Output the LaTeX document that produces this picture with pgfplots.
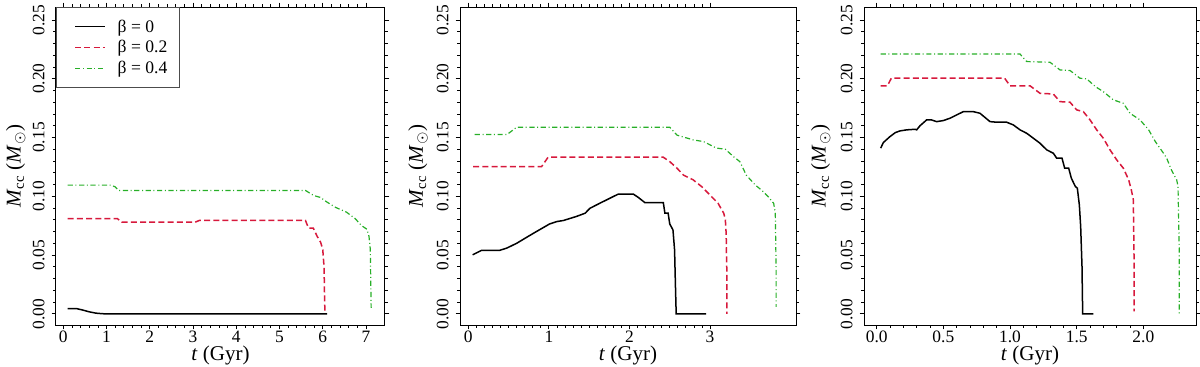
\documentclass[border=0pt]{standalone}
\usepackage{fontspec}
\setmainfont{Liberation Serif}
\usepackage{pgfplots}
\pgfplotsset{compat=1.18}
\definecolor{cred}{RGB}{215,25,60}
\definecolor{cgreen}{RGB}{40,175,40}
\pgfplotsset{
  panel/.style={
    scale only axis, height=159pt,
    ymin=-0.0095, ymax=0.261,
    ytick={0,0.05,0.10,0.15,0.20,0.25}, minor y tick num=4,
    scaled y ticks=false, scaled x ticks=false,
    /pgf/number format/assume math mode=true,
    yticklabel style={rotate=90, anchor=south, /pgf/number format/fixed, /pgf/number format/fixed zerofill, /pgf/number format/precision=2},
    xticklabel style={inner sep=0.8pt},
    tick label style={font=\fontsize{8.7}{10}\selectfont, text=black},
    tick align=outside, major tick length=2.2pt, minor tick length=1.3pt,
    tick style={black, line width=0.4pt},
    xtick pos=both, ytick pos=both,
    xticklabel pos=bottom, yticklabel pos=left,
    axis line style={black, line width=0.5pt},
    label style={font=\fontsize{10.5}{12}\selectfont},
    xlabel={\textit{t} (Gyr)},
    ylabel={\textit{M}\textsubscript{cc} (\textit{M}\textsubscript{$\odot$})},
    xlabel style={at={(axis description cs:0.5,-0.095)}, anchor=center},
    clip=true,
  },
  b0/.style={black, line width=0.75pt},
  b2/.style={cred, line width=0.75pt, dash pattern=on 3pt off 1.6pt},
  b4/.style={cgreen, line width=0.6pt, dash pattern=on 2.6pt off 1.3pt on 0.5pt off 1.3pt},
}
\begin{document}
\begin{tikzpicture}
\path[use as bounding box] (0,0) rectangle (600pt,183pt);
% ---------- panel 1
\begin{axis}[panel, at={(28pt,20.5pt)}, anchor=south west, width=164.5pt,
  ylabel style={at={(axis description cs:-0.122,0.5)}, anchor=center},
  xmin=-0.17, xmax=7.44, xtick={0,1,2,3,4,5,6,7}, minor x tick num=4,
  legend style={at={(0,1)}, anchor=north west, draw=black!70, line width=0.5pt, fill=white,
    inner xsep=5pt, inner ysep=4.5pt, row sep=0pt,
    font=\fontsize{8.8}{10}\selectfont,
    nodes={inner sep=1pt, text height=6.8pt, text depth=1.5pt},
    /tikz/every odd column/.append style={column sep=5pt}},
  legend cell align=left,
  legend image code/.code={\path (0pt,0pt); \draw[#1, line width=0.5pt] (4pt,0pt) -- (19pt,0pt);},
]
\addplot[b0] coordinates {(0.1,0.0045) (0.3,0.0045) (0.45,0.0032) (0.6,0.0017) (0.75,0.0006) (0.9,0.0001) (1.0,0) (6.1,0)};
\addlegendentry{β = 0}
\addplot[b2] coordinates {(0.1,0.081) (1.25,0.081) (1.35,0.078) (3.05,0.078) (3.15,0.0795) (5.6,0.0795) (5.67,0.073) (5.78,0.073) (5.87,0.066) (5.95,0.061) (6.0,0.055) (6.03,0.04) (6.04,0.02) (6.05,0.0)};
\addlegendentry{β = 0.2}
\addplot[b4] coordinates {(0.1,0.1095) (1.1,0.1095) (1.2,0.108) (1.28,0.105) (5.6,0.105) (5.75,0.1015) (5.85,0.1) (5.95,0.099) (6.1,0.095) (6.3,0.0905) (6.55,0.0865) (6.75,0.081) (6.9,0.075) (7.02,0.072) (7.07,0.066) (7.1,0.055) (7.11,0.03) (7.12,0.005)};
\addlegendentry{β = 0.4}
\end{axis}
% ---------- panel 2
\begin{axis}[panel, at={(230pt,20.5pt)}, anchor=south west, width=168pt,
  ylabel style={at={(axis description cs:-0.125,0.5)}, anchor=center},
  xmin=-0.103, xmax=4.067, xtick={0,1,2,3}, minor x tick num=9]
\addplot[b0] coordinates {(0.054,0.0502) (0.165,0.054) (0.39,0.054) (0.48,0.056) (0.6,0.060) (0.81,0.0686) (1.01,0.0765) (1.10,0.0785) (1.18,0.0794) (1.34,0.0828) (1.45,0.0856) (1.51,0.0898) (1.63,0.094) (1.80,0.0998) (1.86,0.1018) (2.05,0.1018) (2.11,0.099) (2.19,0.0947) (2.42,0.0947) (2.44,0.0856) (2.48,0.0856) (2.50,0.0765) (2.54,0.0714) (2.56,0.0544) (2.57,0.026) (2.58,0) (2.95,0)};
\addplot[b2] coordinates {(0.06,0.1253) (0.91,0.1253) (0.99,0.1332) (2.42,0.1332) (2.50,0.1295) (2.59,0.1239) (2.67,0.118) (2.79,0.114) (2.9,0.108) (3.0,0.101) (3.10,0.094) (3.17,0.0856) (3.19,0.080) (3.2,0.0686) (3.21,0.03) (3.21,0.0)};
\addplot[b4] coordinates {(0.08,0.1525) (0.48,0.1525) (0.6,0.1587) (2.50,0.1587) (2.59,0.152) (2.79,0.148) (2.92,0.1465) (3.08,0.141) (3.19,0.14) (3.29,0.1338) (3.37,0.1295) (3.45,0.118) (3.56,0.1097) (3.66,0.104) (3.72,0.0998) (3.79,0.094) (3.81,0.0856) (3.82,0.04) (3.82,0.006)};
\end{axis}
% ---------- panel 3
\begin{axis}[panel, at={(432pt,20.5pt)}, anchor=south west, width=166pt,
  ylabel style={at={(axis description cs:-0.13,0.5)}, anchor=center},
  xmin=-0.095, xmax=2.395, xtick={0,0.5,1.0,1.5,2.0}, minor x tick num=4,
  xticklabel style={/pgf/number format/fixed, /pgf/number format/fixed zerofill, /pgf/number format/precision=1}]
\addplot[b0] coordinates {(0.03,0.1409) (0.05,0.1457) (0.1,0.1508) (0.14,0.1542) (0.175,0.1556) (0.225,0.1565) (0.29,0.157) (0.30,0.1565) (0.325,0.160) (0.375,0.165) (0.41,0.165) (0.45,0.1635) (0.5,0.1644) (0.55,0.1664) (0.6,0.1692) (0.65,0.172) (0.725,0.172) (0.775,0.1706) (0.85,0.1635) (0.9,0.163) (0.975,0.163) (1.025,0.1607) (1.075,0.1565) (1.125,0.1536) (1.175,0.1494) (1.225,0.1451) (1.275,0.1395) (1.325,0.1366) (1.35,0.1324) (1.39,0.1324) (1.41,0.1239) (1.44,0.1239) (1.46,0.1154) (1.49,0.1083) (1.505,0.1069) (1.52,0.0927) (1.53,0.0743) (1.54,0.0402) (1.545,0) (1.625,0)};
\addplot[b2] coordinates {(0.03,0.1939) (0.08,0.1939) (0.11,0.2004) (0.96,0.2004) (1.0,0.194) (1.15,0.194) (1.225,0.1876) (1.325,0.187) (1.375,0.1805) (1.45,0.18) (1.5,0.1735) (1.55,0.172) (1.6,0.165) (1.65,0.1565) (1.7,0.1494) (1.75,0.1395) (1.8,0.131) (1.85,0.1239) (1.89,0.114) (1.91,0.1054) (1.925,0.097) (1.93,0.05) (1.93,0.002)};
\addplot[b4] coordinates {(0.03,0.221) (1.075,0.221) (1.125,0.2146) (1.3,0.214) (1.375,0.2075) (1.45,0.207) (1.525,0.2004) (1.575,0.1999) (1.64,0.1933) (1.7,0.189) (1.775,0.182) (1.85,0.1791) (1.9,0.1706) (1.975,0.165) (2.04,0.1565) (2.09,0.1465) (2.16,0.1352) (2.175,0.1324) (2.21,0.1225) (2.25,0.114) (2.26,0.1083) (2.27,0.05) (2.27,0)};
\end{axis}
\end{tikzpicture}
\end{document}
